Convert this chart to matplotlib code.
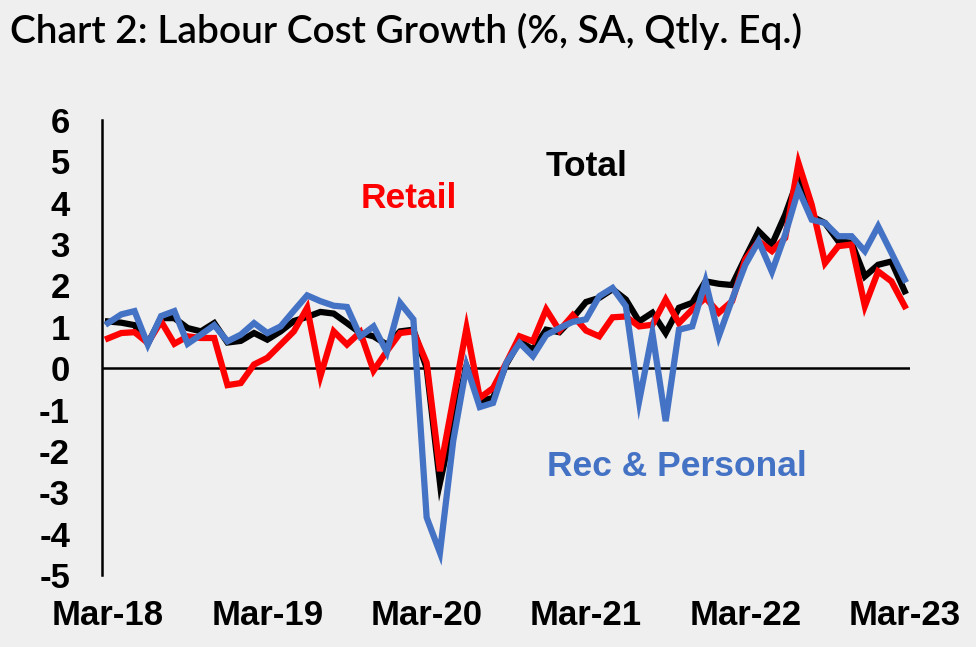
import matplotlib
matplotlib.use("Agg")
import matplotlib.pyplot as plt

plt.rcParams["axes.unicode_minus"] = False

months = list(range(61))
tick_pos = [0, 12, 24, 36, 48, 60]
tick_labels = ["Mar-18", "Mar-19", "Mar-20", "Mar-21", "Mar-22", "Mar-23"]

total = [1.13, 1.10, 1.04, 0.60, 1.21, 1.21, 0.97, 0.89, 1.09, 0.62, 0.66, 0.85,
         0.69, 0.89, 1.14, 1.24, 1.36, 1.32, 1.09, 0.85, 0.77, 0.57, 0.89, 0.93,
         0.00, -2.77, -1.30, 0.05, -0.80, -0.72, 0.10, 0.65, 0.45, 0.93, 0.87, 1.21,
         1.60, 1.70, 1.91, 1.66, 1.13, 1.34, 0.85, 1.46, 1.58, 2.10, 2.04, 2.01,
         2.67, 3.31, 2.99, 3.71, 4.60, 3.67, 3.51, 3.07, 3.03, 2.22, 2.50, 2.58, 1.86]

retail = [0.72, 0.85, 0.87, 0.61, 1.13, 0.59, 0.77, 0.73, 0.73, -0.41, -0.36, 0.09,
          0.25, 0.57, 0.89, 1.46, -0.19, 0.89, 0.57, 0.87, -0.06, 0.41, 0.85, 0.89,
          0.13, -2.49, -0.76, 0.97, -0.72, -0.48, 0.13, 0.77, 0.65, 1.42, 0.91, 1.28,
          0.91, 0.77, 1.23, 1.25, 1.01, 1.05, 1.66, 1.09, 1.42, 1.70, 1.34, 1.62,
          2.63, 3.07, 2.83, 3.15, 4.96, 3.95, 2.54, 2.95, 2.99, 1.50, 2.34, 2.10, 1.50]

rec_personal = [1.09, 1.30, 1.38, 0.57, 1.26, 1.38, 0.59, 0.81, 1.04, 0.65, 0.81, 1.09,
                0.85, 1.01, 1.39, 1.76, 1.62, 1.51, 1.48, 0.77, 1.01, 0.39, 1.58, 1.18,
                -3.61, -4.46, -1.76, 0.05, -0.94, -0.84, 0.13, 0.61, 0.29, 0.80, 0.97, 1.12,
                1.18, 1.74, 1.94, 1.50, -0.80, 0.85, -1.28, 0.93, 1.01, 2.10, 0.77, 1.66,
                2.50, 3.07, 2.33, 3.23, 4.32, 3.59, 3.51, 3.19, 3.19, 2.83, 3.43, 2.79, 2.14]

bg = "#EFEFEF"
W, H = 976, 647
fig = plt.figure(figsize=(W/100, H/100), dpi=100, facecolor=bg)
ax = fig.add_axes([102/W, 1-575/H, (910-102)/W, (575-120)/H])
ax.set_facecolor(bg)

lw = 4.5
ax.plot(months, total, color="black", lw=lw, solid_joinstyle="miter", zorder=3)
ax.plot(months, retail, color="#FF0000", lw=lw, solid_joinstyle="miter", zorder=4)
ax.plot(months, rec_personal, color="#4472C4", lw=lw, solid_joinstyle="miter", zorder=5)
ax.axhline(0, color="black", lw=1.8, zorder=2)

ax.set_xlim(-0.45, 60.4)
ax.set_ylim(-5, 6)
ax.set_yticks(range(-5, 7))
ax.set_xticks(tick_pos)
ax.set_xticklabels(tick_labels)

fs = 25
tfont = dict(family="Liberation Sans", weight="bold", size=25.5)
for lab in ax.get_yticklabels() + ax.get_xticklabels():
    lab.set_fontfamily("Liberation Sans")
    lab.set_fontweight("bold")
    lab.set_fontsize(fs)
ax.tick_params(axis="y", length=0, pad=23)
ax.tick_params(axis="x", length=0, pad=17)

for s in ["top", "right", "bottom"]:
    ax.spines[s].set_visible(False)
ax.spines["left"].set_linewidth(1.8)

def ftext(x, y, s, color):
    fig.text(x/W, 1-y/H, s, color=color, ha="center", va="center", fontdict=tfont)

ftext(587, 167, "Total", "black")
ftext(409, 199, "Retail", "#FF0000")
ftext(677, 466, "Rec & Personal", "#4472C4")

fig.text(10/W, 1-43/H, "Chart 2: Labour Cost Growth (%, SA, Qtly. Eq.)",
         family="Lato", weight="semibold", size=28, color="black",
         ha="left", va="baseline")

fig.savefig("out.png", dpi=100, facecolor=bg)
